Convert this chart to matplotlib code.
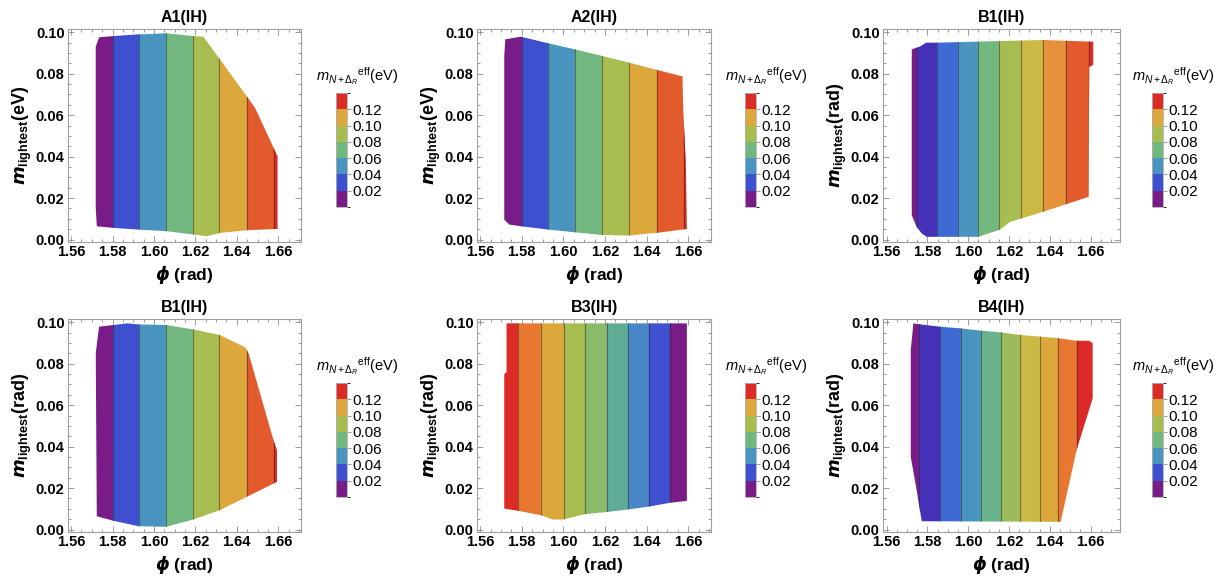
import numpy as np
import matplotlib
matplotlib.use('Agg')
import matplotlib.pyplot as plt
from matplotlib.patches import Polygon
from matplotlib.colors import ListedColormap, BoundaryNorm
from matplotlib.colorbar import ColorbarBase
from matplotlib.ticker import MultipleLocator

plt.rcParams['font.family'] = ['Liberation Sans', 'DejaVu Sans']
plt.rcParams['mathtext.fontset'] = 'custom'
plt.rcParams['mathtext.rm'] = 'Liberation Sans'
plt.rcParams['mathtext.it'] = 'Liberation Sans:italic'
plt.rcParams['mathtext.bf'] = 'Liberation Sans:bold'
plt.rcParams['mathtext.bfit'] = 'DejaVu Sans:italic:bold'

# colours (Mathematica rainbow-like shading)
PURPLE = '#7a1c88'
INDIGO = '#4531b7'
BLUE = '#3e50cf'
ROYAL = '#3f6ad4'
STEEL = '#4a95bf'
TEAL = '#5eac96'
GREEN = '#73b780'
LGREEN = '#8abb6b'
YGREEN = '#a8bd50'
OLIVE = '#cbb946'
GOLD = '#dca83c'
LORANGE = '#e5923a'
ORANGE = '#e35b2c'
ORANGE2 = '#e8772f'
RED = '#dc2a26'

# A1(IH)
a1_phi = [1.5719, 1.5735, 1.5805, 1.5925, 1.6062, 1.6191, 1.6239, 1.6320, 1.6449, 1.6489, 1.6586,
          1.6597, 1.6597, 1.6449, 1.6320, 1.6255, 1.6191, 1.6062, 1.5925, 1.5805, 1.5724, 1.5719]
a1_m = [0.0931, 0.0976, 0.0982, 0.0990, 0.0995, 0.0982, 0.0979, 0.0867, 0.0690, 0.0634, 0.0425,
        0.0401, 0.0051, 0.0045, 0.0032, 0.0016, 0.0024, 0.0040, 0.0048, 0.0056, 0.0064, 0.0152]
a1_cuts = [1.5800, 1.5927, 1.6057, 1.6188, 1.6315, 1.6449, 1.6581]
a1_colors = [PURPLE, BLUE, STEEL, GREEN, YGREEN, GOLD, ORANGE, RED]

# A2(IH)
a2_phi = [1.5716, 1.5721, 1.5796, 1.5928, 1.6054, 1.6186, 1.6315, 1.6449, 1.6573, 1.6577,
          1.6589, 1.6594, 1.6449, 1.6312, 1.6186, 1.6054, 1.5928, 1.5796, 1.5740, 1.5716]
a2_m = [0.0883, 0.0966, 0.0979, 0.0947, 0.0918, 0.0886, 0.0854, 0.0819, 0.0787, 0.0602,
        0.0385, 0.0051, 0.0032, 0.0019, 0.0022, 0.0035, 0.0048, 0.0064, 0.0072, 0.0096]
a2_cuts = [1.5800, 1.5928, 1.6054, 1.6186, 1.6315, 1.6450, 1.6582]
a2_colors = [PURPLE, BLUE, STEEL, GREEN, YGREEN, GOLD, ORANGE, RED]

# B1(IH), top row
b1_phi = [1.5723, 1.5763, 1.5793, 1.5845, 1.6041, 1.6368, 1.6597, 1.6613, 1.6613, 1.6593,
          1.6590, 1.6368, 1.6205, 1.6156, 1.6049, 1.5796, 1.5772, 1.5747, 1.5723]
b1_m = [0.0918, 0.0931, 0.0950, 0.0950, 0.0955, 0.0963, 0.0955, 0.0955, 0.0842, 0.0834,
        0.0206, 0.0134, 0.0085, 0.0048, 0.0013, 0.0013, 0.0029, 0.0061, 0.0117]
b1_cuts = [1.5750, 1.5848, 1.5948, 1.6049, 1.6152, 1.6257, 1.6368, 1.6479, 1.6593]
b1_colors = [PURPLE, INDIGO, ROYAL, STEEL, GREEN, YGREEN, OLIVE, LORANGE, ORANGE, RED]

# B1(IH), bottom row
b1b_phi = [1.5719, 1.5735, 1.5805, 1.5869, 1.5925, 1.6059, 1.6188, 1.6317, 1.6441, 1.6457,
           1.6577, 1.6594, 1.6594, 1.6449, 1.6317, 1.6188, 1.6059, 1.5925, 1.5805, 1.5724]
b1b_m = [0.0850, 0.0979, 0.0987, 0.0995, 0.0990, 0.0987, 0.0966, 0.0939, 0.0879, 0.0850,
         0.0432, 0.0383, 0.0230, 0.0158, 0.0093, 0.0048, 0.0013, 0.0016, 0.0042, 0.0064]
b1b_cuts = [1.5800, 1.5927, 1.6057, 1.6188, 1.6315, 1.6449, 1.6581]
b1b_colors = [PURPLE, BLUE, STEEL, GREEN, YGREEN, GOLD, ORANGE, RED]

# B3(IH)
b3_phi = [1.5727, 1.6594, 1.6594, 1.6513, 1.6408, 1.6312, 1.6215, 1.6102, 1.5998, 1.5949,
          1.5893, 1.5784, 1.5716, 1.5716, 1.5727]
b3_m = [0.0995, 0.0995, 0.0138, 0.0129, 0.0110, 0.0097, 0.0085, 0.0074, 0.0048, 0.0048,
        0.0069, 0.0090, 0.0101, 0.0750, 0.0760]
b3_cuts = [1.5784, 1.5893, 1.6001, 1.6106, 1.6212, 1.6312, 1.6412, 1.6513]
b3_colors = [RED, ORANGE2, GOLD, YGREEN, LGREEN, TEAL, '#4886c8', BLUE, PURPLE]

# B4(IH)
b4_phi = [1.5731, 1.5763, 1.5861, 1.5959, 1.6058, 1.6156, 1.6254, 1.6352, 1.6442, 1.6531,
          1.6593, 1.6610, 1.6610, 1.6531, 1.6453, 1.5772, 1.5747, 1.5718, 1.5718]
b4_m = [0.0995, 0.0990, 0.0979, 0.0971, 0.0960, 0.0952, 0.0939, 0.0931, 0.0923, 0.0911,
        0.0911, 0.0899, 0.0633, 0.0383, 0.0037, 0.0040, 0.0190, 0.0351, 0.0866]
b4_cuts = [1.5760, 1.5861, 1.5963, 1.6062, 1.6159, 1.6254, 1.6352, 1.6442, 1.6535]
b4_colors = [PURPLE, INDIGO, ROYAL, STEEL, '#68b38b', '#9cbc5c', OLIVE, GOLD, ORANGE2, RED]

titles = ['A1(IH)', 'A2(IH)', 'B1(IH)', 'B1(IH)', 'B3(IH)', 'B4(IH)']
units = ['eV', 'eV', 'rad', 'rad', 'rad', 'rad']

# legend (colour scale)
legend_colors = [PURPLE, BLUE, STEEL, GREEN, YGREEN, GOLD, RED]
legend_bounds = [0.0, 0.02, 0.04, 0.06, 0.08, 0.10, 0.12, 0.14]
legend_ticks = [0.02, 0.04, 0.06, 0.08, 0.10, 0.12]

panels = [
    (a1_phi, a1_m, a1_cuts, a1_colors),
    (a2_phi, a2_m, a2_cuts, a2_colors),
    (b1_phi, b1_m, b1_cuts, b1_colors),
    (b1b_phi, b1b_m, b1b_cuts, b1b_colors),
    (b3_phi, b3_m, b3_cuts, b3_colors),
    (b4_phi, b4_m, b4_cuts, b4_colors),
]

XLIMS = [(1.5585, 1.671), (1.5585, 1.671), (1.5582, 1.6744)]
YLIM = (-0.0012, 0.1016)

W, H = 1221, 581
fig = plt.figure(figsize=(W / 100, H / 100), dpi=100)

col_left = [68, 477, 883]
col_width = [233, 234, 237]
row_top = [29, 319]
ax_h = 213
cbar_left = [336, 745, 1152]
cbar_w = 11
cbar_top = [93, 383]
cbar_h = 114
label_dx = 16


def draw_panel(ax, phi, m, cuts, colors, xlim):
    region = Polygon(np.column_stack([phi, m]), closed=True, facecolor='none', edgecolor='none')
    ax.add_patch(region)
    lims = [xlim[0]] + list(cuts) + [xlim[1]]
    for lo, hi, c in zip(lims[:-1], lims[1:], colors):
        span = ax.axvspan(lo, hi, facecolor=c, edgecolor=c, lw=0.3)
        span.set_clip_path(region)
    for x in cuts:
        ln = ax.axvline(x, color='#2a2a2a', lw=0.8, alpha=0.5)
        ln.set_clip_path(region)


for i, (phi, m, cuts, colors) in enumerate(panels):
    r, c = divmod(i, 3)
    xlim = XLIMS[c]
    ax = fig.add_axes([col_left[c] / W, 1 - (row_top[r] + ax_h) / H, col_width[c] / W, ax_h / H])
    draw_panel(ax, phi, m, cuts, colors, xlim)
    ax.set_xlim(*xlim)
    ax.set_ylim(*YLIM)
    ax.set_xticks([1.56, 1.58, 1.60, 1.62, 1.64, 1.66])
    ax.set_yticks([0.0, 0.02, 0.04, 0.06, 0.08, 0.10])
    ax.xaxis.set_major_formatter(plt.FormatStrFormatter('%.2f'))
    ax.yaxis.set_major_formatter(plt.FormatStrFormatter('%.2f'))
    ax.xaxis.set_minor_locator(MultipleLocator(0.005))
    ax.yaxis.set_minor_locator(MultipleLocator(0.005))
    ax.tick_params(which='both', direction='in', top=True, right=True, color='#8a8a8a', width=0.6)
    ax.tick_params(which='major', length=4, labelsize=10.5, pad=2.5)
    ax.tick_params(which='minor', length=2)
    for lab in ax.get_xticklabels() + ax.get_yticklabels():
        lab.set_fontweight('bold')
    for sp in ax.spines.values():
        sp.set_color('#a0a0a0')
        sp.set_linewidth(0.8)
    ax.set_title(titles[i], fontsize=11.5, fontweight='bold', pad=5)
    ax.set_xlabel(r'$\mathbfit{\phi}$ (rad)', fontsize=12.5, fontweight='bold', labelpad=3)
    ax.set_ylabel(r'$\mathbfit{m}_{\mathbf{lightest}}$(' + units[i] + ')', fontsize=13,
                  fontweight='bold', labelpad=1)

    cax = fig.add_axes([cbar_left[c] / W, 1 - (cbar_top[r] + cbar_h) / H, cbar_w / W, cbar_h / H])
    cmap = ListedColormap(legend_colors)
    norm = BoundaryNorm(legend_bounds, cmap.N)
    cb = ColorbarBase(cax, cmap=cmap, norm=norm, ticks=legend_ticks)
    cb.ax.set_yticklabels(['%.2f' % t for t in legend_ticks])
    cb.outline.set_edgecolor('#b0b0b0')
    cb.outline.set_linewidth(0.6)
    cax.tick_params(length=3, width=0.6, color='#8a8a8a', labelsize=11, pad=1)
    fig.text((cbar_left[c] + cbar_w / 2 + label_dx) / W, 1 - (cbar_top[r] - 17) / H,
             r'${m_{N+\Delta_R}}^{\mathrm{eff}}$(eV)', ha='center', va='center', fontsize=10.5)

fig.savefig('out.png', dpi=100)
